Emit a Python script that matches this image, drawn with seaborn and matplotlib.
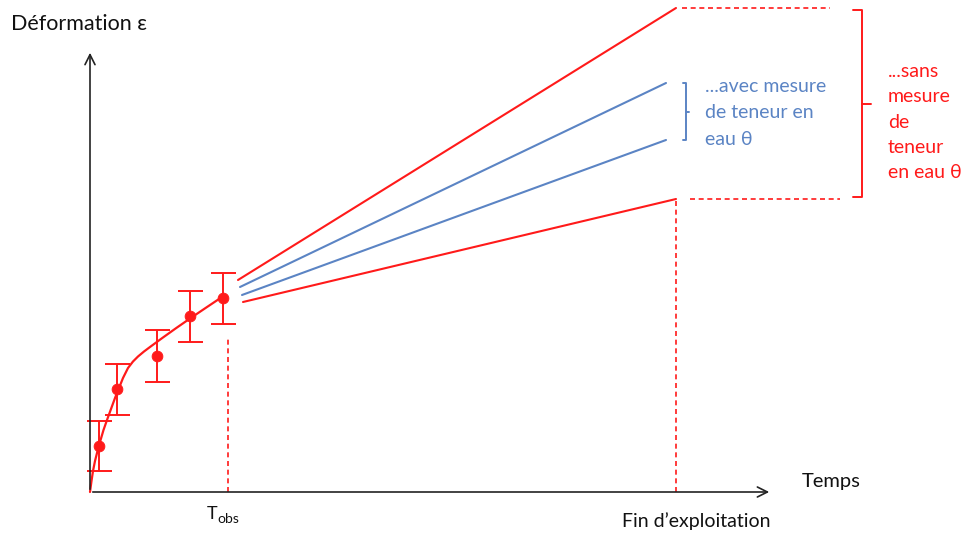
import matplotlib
matplotlib.use("Agg")
import matplotlib.pyplot as plt
import seaborn as sns
import pandas as pd

# mesures observees (temps, deformation, demi-barre d'erreur)
t_mes = [0.9, 2.7, 6.7, 10.0, 13.3]
eps_mes = [4.6, 10.3, 13.6, 17.6, 19.4]
err_mes = [2.5, 2.55, 2.6, 2.55, 2.55]

# courbe d'ajustement
t_fit = [0, 0.15, 0.3, 0.5, 0.7, 1.0, 1.35, 1.7, 2.1, 2.5, 2.9, 3.3, 3.8, 4.3,
         4.8, 5.4, 6.0, 7.2, 8.6, 10.0, 11.6, 13.2]
eps_fit = [0, 1.1, 2.1, 3.1, 3.9, 5.0, 6.2, 7.2, 8.3, 9.4, 10.4, 11.4, 12.4, 13.05,
           13.55, 14.05, 14.5, 15.38, 16.38, 17.35, 18.43, 19.5]

# projections jusqu'a la fin d'exploitation
proj_noms = ["sans_haut", "avec_haut", "avec_bas", "sans_bas"]
proj_t0 = [14.8, 15.0, 15.2, 15.3]
proj_eps0 = [21.2, 20.5, 19.7, 19.0]
proj_t1 = [58.6, 57.6, 57.6, 58.6]
proj_eps1 = [48.4, 40.9, 35.2, 29.3]

t_obs = 13.8
t_fin = 58.6

ROUGE = "#ff1a1a"
BLEU = "#5b84c4"

sns.set_theme(style="white")
plt.rcParams["font.family"] = ["Lato", "DejaVu Sans"]

fig = plt.figure(figsize=(9.64, 5.34), dpi=100)
ax = fig.add_axes([0, 0, 1, 1])
ax.set_xlim(-9.0, 87.4)
ax.set_ylim(-4.2, 49.2)
ax.axis("off")

def fp(x, y):
    # position en pixels -> fraction de figure
    return x / 964, 1 - y / 534

# axes avec fleches
ax.annotate("", xy=(68.2, 0), xytext=(0, 0),
            arrowprops=dict(arrowstyle="->", color="#222222", lw=1.2, mutation_scale=18))
ax.annotate("", xy=(0, 44.2), xytext=(0, 0),
            arrowprops=dict(arrowstyle="->", color="#222222", lw=1.2, mutation_scale=18))

# courbe + mesures
sns.lineplot(x=t_fit, y=eps_fit, color=ROUGE, lw=1.6, ax=ax, sort=False,
             solid_joinstyle="round", solid_capstyle="round")
ax.errorbar(t_mes, eps_mes, yerr=err_mes, fmt="none", ecolor=ROUGE, elinewidth=1.4,
            capsize=9, capthick=1.4)
sns.scatterplot(x=t_mes, y=eps_mes, color=ROUGE, s=60, edgecolor=ROUGE, ax=ax, zorder=5)

# projections
df = pd.DataFrame({"nom": proj_noms, "t0": proj_t0, "e0": proj_eps0, "t1": proj_t1, "e1": proj_eps1})
for _, r in df.iterrows():
    c = ROUGE if r["nom"].startswith("sans") else BLEU
    sns.lineplot(x=[r["t0"], r["t1"]], y=[r["e0"], r["e1"]], color=c, lw=1.5, ax=ax)

# pointilles
dash = (0, (3, 2.2))
ax.plot([t_obs, t_obs], [0, 15.5], color=ROUGE, lw=1.2, ls=dash)
ax.plot([t_fin, t_fin], [0, proj_eps1[3] - 0.2], color=ROUGE, lw=1.2, ls=dash)
ax.plot([t_fin + 0.6, 74.0], [proj_eps1[0], proj_eps1[0]], color=ROUGE, lw=1.2, ls=dash)
ax.plot([t_fin + 1.4, 75.0], [proj_eps1[3], proj_eps1[3]], color=ROUGE, lw=1.2, ls=dash)

# accolades
ax.plot([76.3, 77.2, 77.2, 76.3], [48.2, 48.2, 29.5, 29.5], color=ROUGE, lw=1.4)
ax.plot([77.2, 78.1], [38.8, 38.8], color=ROUGE, lw=1.4)
ax.plot([59.3, 59.6, 59.6, 59.3], [40.9, 40.9, 35.2, 35.2], color=BLEU, lw=1.4)
ax.plot([59.6, 59.9], [38.0, 38.0], color=BLEU, lw=1.4)

# textes
fig.text(*fp(11, 24), "Déformation ε", fontsize=15.5, va="center", ha="left", color="#111111")
fig.text(*fp(802, 482), "Temps", fontsize=14.5, va="center", ha="left", color="#111111")
fig.text(*fp(207, 514), "T", fontsize=13, va="center", ha="left", color="#111111")
fig.text(*fp(217, 519), "obs", fontsize=10, va="center", ha="left", color="#111111")
fig.text(*fp(622, 521), "Fin d’exploitation", fontsize=14, va="center", ha="left", color="#111111")
fig.text(*fp(705, 113), "...avec mesure\nde teneur en\neau θ", fontsize=14, va="center",
         ha="left", color=BLEU, linespacing=1.65)
fig.text(*fp(888, 122), "...sans\nmesure\nde\nteneur\nen eau θ", fontsize=14, va="center",
         ha="left", color=ROUGE, linespacing=1.6)

fig.savefig("out.png", dpi=100, facecolor="white")
